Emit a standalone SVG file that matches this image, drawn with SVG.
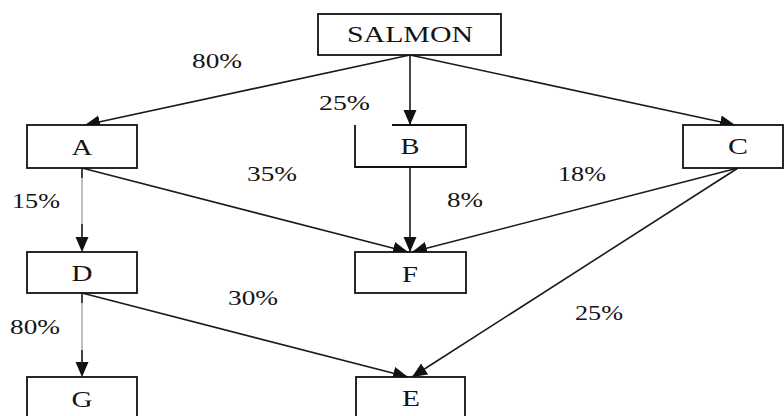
<svg xmlns="http://www.w3.org/2000/svg" width="784" height="416" viewBox="0 0 784 416">
<defs>
<style>
.box{fill:#fff;stroke:#111;stroke-width:1.8}
.lbl{font-family:"Liberation Serif","Times New Roman",serif;font-size:22px;fill:#141414}
.nm{font-family:"Liberation Serif","Times New Roman",serif;font-size:23px;fill:#141414;text-anchor:middle}
.edge{fill:none;stroke:#1a1a1a;stroke-width:1.6}
.thin{fill:none;stroke:#8a8a8a;stroke-width:1.1}
.dark{fill:none;stroke:#1a1a1a;stroke-width:1.5}
</style>
<marker id="arr" markerUnits="userSpaceOnUse" markerWidth="16" markerHeight="16" viewBox="0 0 16 16" refX="15" refY="8" orient="auto">
<path d="M0,1.5 L15,8 L0,14.5 Z" fill="#111"/>
</marker>
</defs>
<rect width="784" height="416" fill="#fff"/>
<g id="connectors">
<line class="edge" x1="410" y1="55" x2="85" y2="125" marker-end="url(#arr)"/>
<line class="edge" x1="410" y1="55" x2="410" y2="125" marker-end="url(#arr)"/>
<line class="edge" x1="410" y1="55" x2="735" y2="125" marker-end="url(#arr)"/>
<line class="thin" x1="82" y1="168" x2="82" y2="252" marker-end="url(#arr)"/>
<line class="dark" x1="82" y1="168" x2="82" y2="178"/>
<line class="dark" x1="82" y1="224" x2="82" y2="242"/>
<line class="edge" x1="82" y1="168" x2="408" y2="252" marker-end="url(#arr)"/>
<line class="edge" x1="410" y1="167" x2="410" y2="252" marker-end="url(#arr)"/>
<line class="edge" x1="738" y1="168" x2="412" y2="252" marker-end="url(#arr)"/>
<line class="edge" x1="738" y1="168" x2="412" y2="377" marker-end="url(#arr)"/>
<line class="thin" x1="82" y1="293" x2="82" y2="377" marker-end="url(#arr)"/>
<line class="dark" x1="82" y1="293" x2="82" y2="303"/>
<line class="dark" x1="82" y1="350" x2="82" y2="367"/>
<line class="edge" x1="82" y1="293" x2="408" y2="377" marker-end="url(#arr)"/>
</g>
<g id="node-salmon">
<rect class="box" x="318" y="14" width="183" height="41"/>
<text class="nm" x="410" y="42" textLength="126" lengthAdjust="spacingAndGlyphs">SALMON</text>
</g>
<g id="node-a">
<rect class="box" x="27" y="125" width="110" height="43"/>
<text class="nm" x="82" y="155" textLength="21" lengthAdjust="spacingAndGlyphs">A</text>
</g>
<g id="node-b">
<path class="box" d="M392,125 H466 V167 H355 V125"/>
<text class="nm" x="410" y="154" textLength="19" lengthAdjust="spacingAndGlyphs">B</text>
</g>
<g id="node-c">
<rect class="box" x="683" y="125" width="100" height="43"/>
<text class="nm" x="738" y="154" textLength="20" lengthAdjust="spacingAndGlyphs">C</text>
</g>
<g id="node-d">
<rect class="box" x="27" y="252" width="110" height="41"/>
<text class="nm" x="82" y="281" textLength="21" lengthAdjust="spacingAndGlyphs">D</text>
</g>
<g id="node-f">
<rect class="box" x="355" y="252" width="111" height="41"/>
<text class="nm" x="410" y="282" textLength="16" lengthAdjust="spacingAndGlyphs">F</text>
</g>
<g id="node-g">
<rect class="box" x="27" y="377" width="110" height="45"/>
<text class="nm" x="82" y="407" textLength="21" lengthAdjust="spacingAndGlyphs">G</text>
</g>
<g id="node-e">
<rect class="box" x="356" y="377" width="109" height="45"/>
<text class="nm" x="411" y="406" textLength="18" lengthAdjust="spacingAndGlyphs">E</text>
</g>
<g id="labels">
<text class="lbl" x="192" y="68" textLength="50" lengthAdjust="spacingAndGlyphs">80%</text>
<text class="lbl" x="319" y="110" textLength="51" lengthAdjust="spacingAndGlyphs">25%</text>
<text class="lbl" x="247" y="181" textLength="50" lengthAdjust="spacingAndGlyphs">35%</text>
<text class="lbl" x="12" y="208" textLength="48" lengthAdjust="spacingAndGlyphs">15%</text>
<text class="lbl" x="558" y="181" textLength="48" lengthAdjust="spacingAndGlyphs">18%</text>
<text class="lbl" x="447" y="207" textLength="36" lengthAdjust="spacingAndGlyphs">8%</text>
<text class="lbl" x="228" y="305" textLength="50" lengthAdjust="spacingAndGlyphs">30%</text>
<text class="lbl" x="10" y="334" textLength="50" lengthAdjust="spacingAndGlyphs">80%</text>
<text class="lbl" x="575" y="320" textLength="48" lengthAdjust="spacingAndGlyphs">25%</text>
</g>
</svg>
